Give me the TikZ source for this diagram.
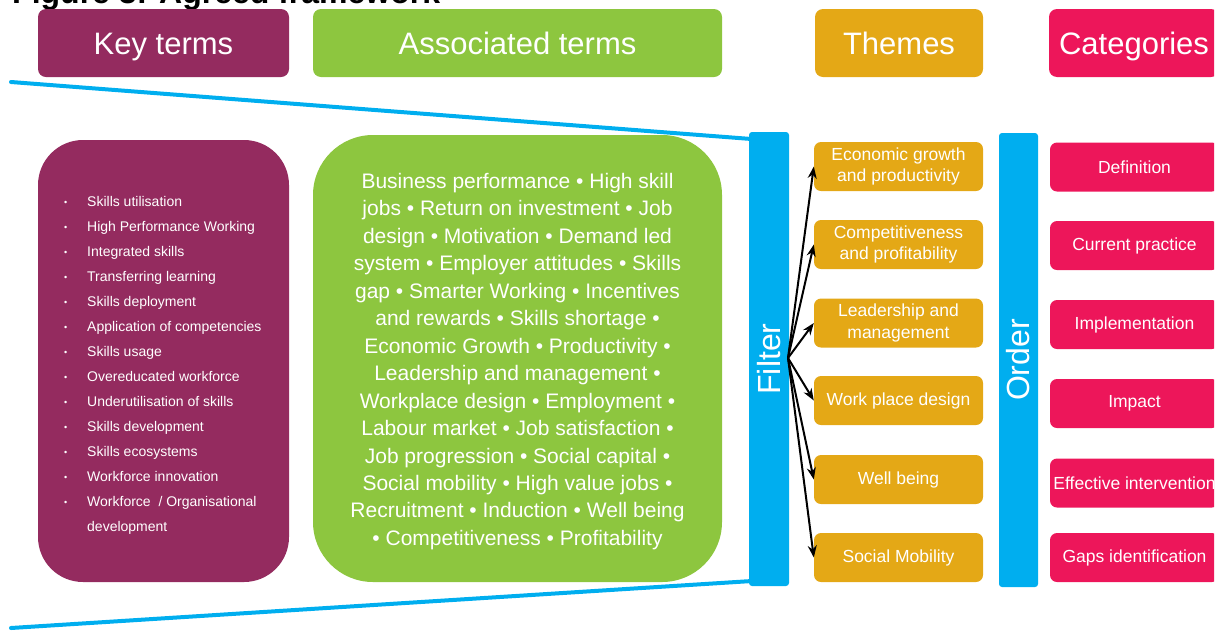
\documentclass[tikz,border=0pt]{standalone}
\usepackage{fontspec}
\setmainfont{Liberation Sans}
\usetikzlibrary{arrows.meta}

\definecolor{kpurple}{RGB}{148,43,95}
\definecolor{agreen}{RGB}{141,198,63}
\definecolor{torange}{RGB}{228,168,22}
\definecolor{cpink}{RGB}{237,22,90}
\definecolor{fblue}{RGB}{0,174,239}

\begin{document}
\begin{tikzpicture}[x=1pt,y=-1pt,
  box/.style={inner sep=0pt, text=white, align=center},
  header/.style={box, rounded corners=8pt, minimum height=68pt,
    text height=22pt, text depth=0pt,
    font=\fontsize{31}{36}\selectfont},
  bar/.style={fill=fblue, rounded corners=3pt, inner sep=0pt,
    minimum width=40pt, minimum height=454pt},
  barlabel/.style={rotate=90, text=white, inner sep=0pt,
    font=\fontsize{32}{36}\selectfont},
  theme/.style={box, fill=torange, rounded corners=7pt,
    minimum width=169pt, minimum height=49pt,
    font=\fontsize{17.5}{21.5}\selectfont},
  category/.style={box, fill=cpink, rounded corners=7pt,
    minimum width=169pt, minimum height=49pt,
    font=\fontsize{17.5}{21.5}\selectfont},
  keyitem/.style={anchor=base west, inner sep=0pt, text=white,
    font=\fontsize{14}{16}\selectfont},
  funnel/.style={draw=fblue, line width=4pt, line cap=round},
  link/.style={draw=black, line width=2pt,
    -{Stealth[length=12pt,width=9pt]}}
]
\useasboundingbox (0,0) rectangle (1220,630);
\clip (0,0) rectangle (1214,630);

% figure caption, mostly above the page edge
\node[anchor=base west, inner sep=0pt,
  font=\bfseries\fontsize{32}{38}\selectfont] (title) at (12,3.5)
  {Figure 3: Agreed framework};

% column headers
\node[header, fill=kpurple, minimum width=251pt] (hkey) at (163.5,43) {Key terms};
\node[header, fill=agreen, minimum width=409pt] (hassoc) at (517.5,43) {Associated terms};
\node[header, fill=torange, minimum width=168pt] (hthemes) at (899,43) {Themes};
\node[header, fill=cpink, minimum width=170pt] (hcat) at (1134,43) {Categories};

% funnel outline
\coordinate (fuTop) at (11,82);
\coordinate (fuBot) at (11,628);

% key terms panel
\node[box, fill=kpurple, rounded corners=45pt, minimum width=251pt,
  minimum height=442pt] (keybox) at (163.5,361) {};
\foreach \t [count=\i] in {Skills utilisation, High Performance Working,
  Integrated skills, Transferring learning, Skills deployment,
  Application of competencies, Skills usage, Overeducated workforce,
  Underutilisation of skills, Skills development, Skills ecosystems,
  Workforce innovation, Workforce\ \ / Organisational}
  \node[keyitem] (k\i) at (64,181+25*\i)
    {\makebox[23pt][l]{\raisebox{1pt}{\fontsize{9}{9}\selectfont\textbullet}}\t};
\node[keyitem] (k14) at (87,531) {development};

% associated terms panel
\node[box, fill=agreen, rounded corners=60pt, minimum width=409pt,
  minimum height=447pt] (assocbox) at (517.5,358.5) {};
\node[box, font=\fontsize{21}{27.45}\selectfont] (assoctext) at (517.5,361.5)
  {Business performance • High skill\\
   jobs • Return on investment • Job\\
   design • Motivation • Demand led\\
   system • Employer attitudes • Skills\\
   gap • Smarter Working • Incentives\\
   and rewards • Skills shortage •\\
   Economic Growth • Productivity •\\
   Leadership and management •\\
   Workplace design • Employment •\\
   Labour market • Job satisfaction •\\
   Job progression • Social capital •\\
   Social mobility • High value jobs •\\
   Recruitment • Induction • Well being\\
   • Competitiveness • Profitability};

% filter and order bars
\node[bar] (filter) at (769,359) {};
\node[barlabel] (filterlbl) at (filter.center) {Filter};
\node[bar, minimum width=39pt] (order) at (1018.5,360) {};
\node[barlabel] (orderlbl) at (order.center) {Order};

\draw[funnel] (fuTop) -- ([yshift=-7pt]filter.north west);
\draw[funnel] (fuBot) -- ([yshift=5pt]filter.south west);

% themes
\node[theme] (t1) at (898.5,166.5) {Economic growth\\and productivity};
\node[theme] (t2) at (898.5,244.5) {Competitiveness\\and profitability};
\node[theme] (t3) at (898.5,323) {Leadership and\\management};
\node[theme] (t4) at (898.5,400.5) {Work place design};
\node[theme] (t5) at (898.5,479.5) {Well being};
\node[theme] (t6) at (898.5,557.5) {Social Mobility};

% categories
\node[category] (c1) at (1134.5,167) {Definition};
\node[category] (c2) at (1134.5,245.5) {Current practice};
\node[category] (c3) at (1134.5,324.5) {Implementation};
\node[category] (c4) at (1134.5,403.5) {Impact};
\node[category] (c5) at (1134.5,483) {Effective intervention};
\node[category] (c6) at (1134.5,557.5) {Gaps identification};

% filter fans out to the themes
\coordinate (fan) at (788,358);
\foreach \i in {1,...,6}
  \draw[link] (fan) -- (t\i.west);
\end{tikzpicture}
\end{document}
